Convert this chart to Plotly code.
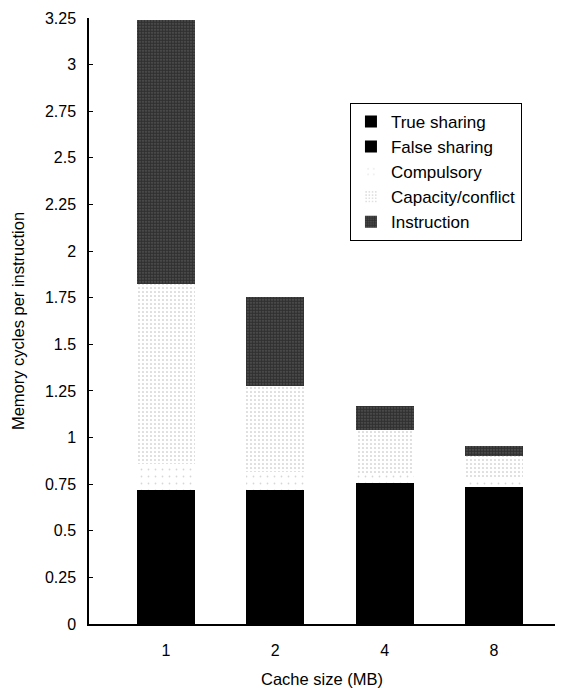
import plotly.graph_objects as go

# Cache sizes (MB) and memory cycles per instruction, split by miss type
cache_sizes = ["1", "2", "4", "8"]
true_sharing = [0.56, 0.55, 0.58, 0.57]
false_sharing = [0.16, 0.167, 0.175, 0.163]
compulsory = [0.14, 0.10, 0.055, 0.047]
capacity_conflict = [0.965, 0.46, 0.23, 0.12]
instruction = [1.415, 0.475, 0.13, 0.053]

y_ticks = [0, 0.25, 0.5, 0.75, 1, 1.25, 1.5, 1.75, 2, 2.25, 2.5, 2.75, 3, 3.25]
y_tick_text = ["0", "0.25", "0.5", "0.75", "1", "1.25", "1.5", "1.75", "2",
               "2.25", "2.5", "2.75", "3", "3.25"]

FONT = "Liberation Sans, Arial, Helvetica, sans-serif"

series = [
    ("True sharing", true_sharing,
     dict(color="black", line=dict(width=0))),
    ("False sharing", false_sharing,
     dict(color="black", line=dict(width=0))),
    ("Compulsory", compulsory,
     dict(color="white", line=dict(width=0),
          pattern=dict(shape=".", fgcolor="#b0b0b0", bgcolor="white",
                       size=7, solidity=0.05))),
    ("Capacity/conflict", capacity_conflict,
     dict(color="white", line=dict(width=0),
          pattern=dict(shape=".", fgcolor="#6a6a6a", bgcolor="white",
                       size=4, solidity=0.12))),
    ("Instruction", instruction,
     dict(color="#222222", line=dict(width=0),
          pattern=dict(shape=".", fgcolor="#050505", bgcolor="#5a5a5a",
                       size=3, solidity=0.75))),
]

fig = go.Figure()
for name, vals, marker in series:
    fig.add_trace(go.Bar(
        x=cache_sizes, y=vals, name=name, marker=marker,
        hoverinfo="skip",
    ))

fig.update_layout(
    barmode="stack",
    bargap=0.47,
    width=568, height=688,
    margin=dict(l=89, r=13, t=18, b=64),
    paper_bgcolor="white",
    plot_bgcolor="white",
    font=dict(family=FONT, size=16, color="black"),
    showlegend=True,
    legend=dict(
        x=0.56, y=0.86, xanchor="left", yanchor="top",
        bordercolor="black", borderwidth=1, bgcolor="white",
        traceorder="normal",
        font=dict(family=FONT, size=17, color="black"),
        itemwidth=30,
    ),
    xaxis=dict(
        type="category",
        range=[-0.704, 3.558],
        automargin=False,
        showline=True, linecolor="black", linewidth=1.5,
        ticks="", showgrid=False, zeroline=False,
        ticklabelstandoff=11,
        tickfont=dict(size=16),
        title=dict(text="Cache size (MB)", font=dict(size=16.5), standoff=21),
    ),
    yaxis=dict(
        range=[0, 3.25],
        automargin=False,
        tickvals=y_ticks, ticktext=y_tick_text,
        showline=True, linecolor="black", linewidth=1.5,
        ticks="inside", ticklen=4, tickcolor="black", tickwidth=1,
        showgrid=False, zeroline=False,
        ticklabelstandoff=8,
        tickfont=dict(size=16),
        title=dict(text="Memory cycles per instruction", font=dict(size=16.5),
                   standoff=16),
    ),
)

fig.write_html("out.html")
